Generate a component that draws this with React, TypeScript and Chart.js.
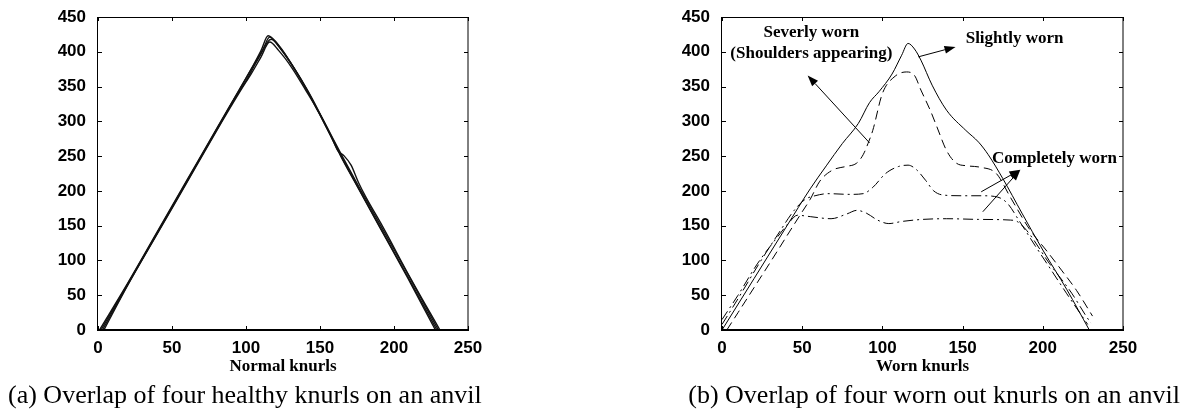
import { useEffect, useRef } from "react";
import { Chart, registerables } from "chart.js";

Chart.register(...registerables);

// Axis ticks shared by both panels
const X_TICKS = [0, 50, 100, 150, 200, 250];
const Y_TICKS = [0, 50, 100, 150, 200, 250, 300, 350, 400, 450];

// (a) four healthy knurls
const healthyX1 = [2, 20, 40, 60, 80, 95, 105, 111, 116, 123, 132, 141, 150, 158, 165, 175, 190, 210, 229];
const healthyY1 = [0, 66, 140, 214, 288, 343, 380, 401, 421, 407, 378, 346, 310, 277, 247, 208, 150, 74, 0];
const healthyX2 = [3, 20, 40, 60, 80, 93, 100, 108, 117, 124, 133, 142, 151, 159, 166, 176, 191, 211, 230];
const healthyY2 = [0, 65, 139, 213, 287, 335, 358, 389, 418, 403, 375, 343, 307, 274, 246, 207, 150, 74, 0];
const healthyX3 = [4, 20, 40, 60, 80, 96, 104, 110, 116, 122, 131, 140, 150, 158, 162, 166, 171, 176, 181, 192, 211, 231];
const healthyY3 = [0, 64, 138, 212, 286, 343, 370, 392, 414, 402, 377, 346, 310, 276, 258, 251, 237, 212, 191, 150, 75, 0];
const healthyX4 = [1, 20, 40, 60, 80, 95, 105, 110, 115, 122, 131, 140, 149, 157, 164, 174, 189, 209, 228];
const healthyY4 = [0, 67, 141, 215, 289, 344, 381, 401, 423, 408, 381, 349, 313, 280, 250, 211, 153, 76, 0];

// (b) four worn knurls
const slightX = [0, 20, 40, 55, 65, 75, 85, 92, 98, 106, 112, 116, 120, 124, 131, 140, 152, 160, 166, 175, 187, 200, 215, 229];
const slightY = [0, 74, 148, 203, 236, 268, 297, 327, 343, 368, 395, 412, 404, 388, 352, 316, 287, 270, 252, 218, 168, 115, 58, 0];
const severeX = [3, 10, 20, 30, 42, 50, 55, 61, 69, 77, 84, 88, 91, 94, 100, 108, 115, 120, 124, 130, 134, 140, 146, 153, 161, 171, 180, 192, 202, 212, 221, 231];
const severeY = [0, 25, 61, 97, 141, 170, 188, 214, 230, 235, 240, 252, 268, 287, 340, 365, 371, 366, 345, 315, 292, 258, 240, 236, 234, 225, 190, 144, 115, 85, 57, 20];
const wornUpperX = [0, 10, 23, 35, 45, 52, 58, 66, 80, 88, 94, 102, 110, 116, 121, 127, 132, 138, 150, 162, 172, 178, 185, 195, 205, 215, 228];
const wornUpperY = [8, 45, 95, 138, 172, 188, 193, 196, 195, 196, 205, 225, 235, 237, 231, 215, 200, 194, 193, 193, 191, 182, 158, 122, 87, 52, 8];
const wornLowerX = [0, 10, 22, 35, 42, 47, 55, 68, 78, 84, 90, 97, 104, 112, 125, 140, 160, 180, 184, 190, 204, 218, 227, 230];
const wornLowerY = [15, 50, 95, 135, 155, 165, 163, 160, 167, 172, 168, 158, 153, 156, 159, 160, 159, 158, 156, 143, 96, 53, 20, 10];

// Callouts on panel (b), in data units
const NOTES = [
  { text: "Severly worn", x: 55.7, y: 428 },
  { text: "(Shoulders appearing)", x: 55.7, y: 397 },
  { text: "Slightly worn", x: 182.4, y: 419 },
  { text: "Completely worn", x: 207.3, y: 247 },
];
const ARROWS = [
  { from: [122.4, 392.7], to: [145.6, 407] },
  { from: [92, 269], to: [53.4, 366] },
  { from: [161.6, 198.7], to: [186, 230.5] },
  { from: [162.6, 170], to: [186, 230.5] },
];

const pts = (xs: number[], ys: number[]) => xs.map((x, i) => ({ x, y: ys[i] }));

const TICK_LEN = 4;
const SERIF = '"Liberation Serif", "Times New Roman", serif';
const SANS = '"Liberation Sans", Arial, sans-serif';

// Box, inward ticks on all sides, axis title and callouts
const framePlugin = {
  id: "frame",
  afterDraw(chart: any, _args: any, opts: any) {
    const { ctx, chartArea: a, scales } = chart;
    const xs = scales.x;
    const ys = scales.y;
    ctx.save();
    ctx.strokeStyle = "#000";
    ctx.lineWidth = 1;
    ctx.beginPath();
    for (const v of X_TICKS) {
      const px = Math.round(xs.getPixelForValue(v)) + 0.5;
      ctx.moveTo(px, a.bottom);
      ctx.lineTo(px, a.bottom - TICK_LEN);
      ctx.moveTo(px, a.top);
      ctx.lineTo(px, a.top + TICK_LEN);
    }
    for (const v of Y_TICKS) {
      const py = Math.round(ys.getPixelForValue(v)) + 0.5;
      ctx.moveTo(a.left, py);
      ctx.lineTo(a.left + TICK_LEN, py);
      ctx.moveTo(a.right, py);
      ctx.lineTo(a.right - TICK_LEN, py);
    }
    ctx.stroke();
    ctx.strokeRect(Math.round(a.left) - 0.5, Math.round(a.top) + 0.5, Math.round(a.right - a.left) + 0.5, Math.round(a.bottom - a.top));
    ctx.lineWidth = 2;
    ctx.beginPath();
    ctx.moveTo(a.left - 1, Math.round(a.bottom));
    ctx.lineTo(a.right + 1, Math.round(a.bottom));
    ctx.stroke();

    ctx.fillStyle = "#000";
    ctx.font = `bold 17px ${SERIF}`;
    ctx.textAlign = "center";
    ctx.textBaseline = "alphabetic";
    ctx.fillText(opts.title, (a.left + a.right) / 2, a.bottom + 41);

    for (const n of opts.notes || []) {
      ctx.textBaseline = "middle";
      ctx.fillText(n.text, xs.getPixelForValue(n.x), ys.getPixelForValue(n.y));
    }
    ctx.lineWidth = 1;
    for (const ar of opts.arrows || []) {
      const x1 = xs.getPixelForValue(ar.from[0]);
      const y1 = ys.getPixelForValue(ar.from[1]);
      const x2 = xs.getPixelForValue(ar.to[0]);
      const y2 = ys.getPixelForValue(ar.to[1]);
      const ang = Math.atan2(y2 - y1, x2 - x1);
      const hl = 11;
      const hw = 4;
      const bx = x2 - hl * Math.cos(ang);
      const by = y2 - hl * Math.sin(ang);
      ctx.beginPath();
      ctx.moveTo(x1, y1);
      ctx.lineTo(bx, by);
      ctx.stroke();
      ctx.beginPath();
      ctx.moveTo(x2, y2);
      ctx.lineTo(bx + hw * Math.sin(ang), by - hw * Math.cos(ang));
      ctx.lineTo(bx - hw * Math.sin(ang), by + hw * Math.cos(ang));
      ctx.closePath();
      ctx.fill();
    }
    ctx.restore();
  },
};

type PanelProps = {
  left: number;
  plotLeft: number;
  plotRight: number;
  datasets: any[];
  title: string;
  notes?: any[];
  arrows?: any[];
};

const W = 599;
const H = 411;
const PLOT_TOP = 17;
const PLOT_BOTTOM = 330;

function Panel({ left, plotLeft, plotRight, datasets, title, notes, arrows }: PanelProps) {
  const ref = useRef<HTMLCanvasElement>(null);
  useEffect(() => {
    const chart = new Chart(ref.current!, {
      type: "line",
      data: { datasets },
      plugins: [framePlugin],
      options: {
        animation: false,
        responsive: false,
        maintainAspectRatio: false,
        events: [],
        layout: { padding: { left: 0, top: PLOT_TOP, right: W - plotRight, bottom: 0 } },
        elements: { point: { radius: 0 } },
        plugins: {
          legend: { display: false },
          tooltip: { enabled: false },
          frame: { title, notes, arrows },
        } as any,
        scales: {
          x: {
            type: "linear",
            min: 0,
            max: 250,
            grid: { display: false },
            border: { display: false },
            afterFit: (s: any) => {
              s.height = H - PLOT_BOTTOM;
            },
            ticks: {
              stepSize: 50,
              padding: 0,
              color: "#000",
              font: { family: SANS, weight: "bold", size: 17 },
            },
          },
          y: {
            type: "linear",
            min: 0,
            max: 450,
            grid: { display: false },
            border: { display: false },
            afterFit: (s: any) => {
              s.width = plotLeft;
            },
            ticks: {
              stepSize: 50,
              padding: 4,
              color: "#000",
              font: { family: SANS, weight: "bold", size: 17 },
            },
          },
        },
      },
    });
    return () => chart.destroy();
  }, []);
  return (
    <canvas
      ref={ref}
      width={W}
      height={H}
      style={{ position: "absolute", left, top: 0, width: W, height: H }}
    />
  );
}

const healthyLine = (xs: number[], ys: number[], label: string) => ({
  label,
  data: pts(xs, ys),
  borderColor: "#111",
  borderWidth: 1.4,
  cubicInterpolationMode: "monotone",
  fill: false,
});

const healthySets = [
  healthyLine(healthyX1, healthyY1, "Knurl 1"),
  healthyLine(healthyX2, healthyY2, "Knurl 2"),
  healthyLine(healthyX3, healthyY3, "Knurl 3"),
  healthyLine(healthyX4, healthyY4, "Knurl 4"),
];

const wornSets = [
  { label: "Slightly worn", data: pts(slightX, slightY), borderColor: "#000", borderWidth: 1, cubicInterpolationMode: "monotone", fill: false },
  { label: "Severly worn", data: pts(severeX, severeY), borderColor: "#000", borderWidth: 1, borderDash: [9, 5], cubicInterpolationMode: "monotone", fill: false },
  { label: "Completely worn A", data: pts(wornUpperX, wornUpperY), borderColor: "#000", borderWidth: 1, borderDash: [10, 4, 2, 4], cubicInterpolationMode: "monotone", fill: false },
  { label: "Completely worn B", data: pts(wornLowerX, wornLowerY), borderColor: "#000", borderWidth: 1, borderDash: [10, 4, 2, 4], cubicInterpolationMode: "monotone", fill: false },
];

const captionStyle: any = {
  position: "absolute",
  top: 382,
  fontFamily: SERIF,
  fontSize: 26,
  lineHeight: "26px",
  whiteSpace: "nowrap",
  color: "#000",
};

export default function App() {
  return (
    <div style={{ position: "absolute", left: 0, top: 0, width: 1198, height: 411, background: "#fff", overflow: "hidden" }}>
      <Panel left={0} plotLeft={98} plotRight={468} datasets={healthySets} title="Normal knurls" />
      <Panel left={599} plotLeft={123} plotRight={524} datasets={wornSets} title="Worn knurls" notes={NOTES} arrows={ARROWS} />
      <div style={{ ...captionStyle, left: 8 }}>(a) Overlap of four healthy knurls on an anvil</div>
      <div style={{ ...captionStyle, right: 18, textAlign: "right" }}>(b) Overlap of four worn out knurls on an anvil</div>
    </div>
  );
}
